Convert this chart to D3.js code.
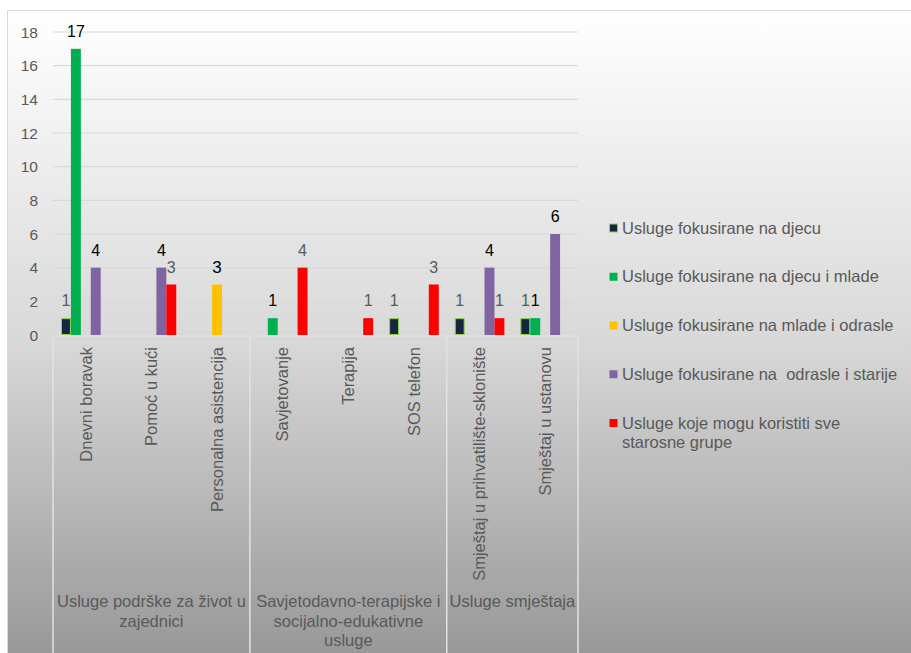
<!DOCTYPE html>
<html>
<head>
<meta charset="utf-8">
<script src="https://cdn.jsdelivr.net/npm/d3@7"></script>
<style>
  body { margin: 0; background: #fff; }
  svg text { font-family: "Liberation Sans", Arial, sans-serif; white-space: pre; }
</style>
</head>
<body>
<div id="chart"></div>
<script>
// --- Data ---
const categories = [
  'Dnevni boravak', 'Pomoć u kući', 'Personalna asistencija',
  'Savjetovanje', 'Terapija', 'SOS telefon',
  'Smještaj u prihvatilište-sklonište', 'Smještaj u ustanovu'
];
const groupNames = [
  ['Usluge podrške za život u', 'zajednici'],
  ['Savjetodavno-terapijske i', 'socijalno-edukativne', 'usluge'],
  ['Usluge smještaja']
];
const groupSizes = [3, 3, 2];
const seriesNames = [
  'Usluge fokusirane na djecu',
  'Usluge fokusirane na djecu i mlade',
  'Usluge fokusirane na mlade i odrasle',
  'Usluge fokusirane na  odrasle i starije',
  'Usluge koje mogu koristiti sve starosne grupe'
];
const valuesDjeca = [1, 0, 0, 0, 0, 1, 1, 1];
const valuesDjecaMlade = [17, 0, 0, 1, 0, 0, 0, 1];
const valuesMladeOdrasle = [0, 0, 3, 0, 0, 0, 0, 0];
const valuesOdrasleStarije = [4, 4, 0, 0, 0, 0, 4, 6];
const valuesSve = [0, 3, 0, 4, 1, 3, 1, 0];
const yTicks = [0, 2, 4, 6, 8, 10, 12, 14, 16, 18];

const seriesValues = [valuesDjeca, valuesDjecaMlade, valuesMladeOdrasle, valuesOdrasleStarije, valuesSve];
const seriesColors = ['#172640', '#00B050', '#FFC000', '#8064A2', '#FF0000'];
const labelColors = ['#595959', '#000000', '#000000', '#000000', '#595959'];

// --- Layout ---
const W = 911, H = 653;
const plot = { left: 53, right: 578, top: 32, bottom: 335 };
const textGray = '#595959';

const svg = d3.select('#chart').append('svg')
  .attr('width', W).attr('height', H);

const defs = svg.append('defs');
const grad = defs.append('linearGradient').attr('id', 'bg')
  .attr('x1', 0).attr('y1', 0).attr('x2', 0).attr('y2', 1);
grad.append('stop').attr('offset', '0%').attr('stop-color', '#FFFFFF');
grad.append('stop').attr('offset', '50%').attr('stop-color', '#D9D9D9');
grad.append('stop').attr('offset', '100%').attr('stop-color', '#979797');

svg.append('rect')
  .attr('x', 7.5).attr('y', 10.5).attr('width', 910).attr('height', 650)
  .attr('fill', 'url(#bg)').attr('stroke', '#D9D9D9');

// Scales
const x0 = d3.scaleBand().domain(categories).range([plot.left, plot.right]);
const x1 = d3.scaleBand().domain(d3.range(seriesValues.length))
  .range([8, x0.bandwidth() - 8]);
const y = d3.scaleLinear().domain([0, 18]).range([plot.bottom, plot.top]);

// Gridlines
svg.append('g').selectAll('line').data(yTicks.filter(t => t > 0)).join('line')
  .attr('x1', plot.left).attr('x2', plot.right)
  .attr('y1', d => y(d)).attr('y2', d => y(d))
  .attr('stroke', '#D9D9D9').attr('stroke-width', 1.2);

// Y tick labels
svg.append('g').selectAll('text').data(yTicks).join('text')
  .attr('x', 38).attr('y', d => y(d) + 5.5)
  .attr('text-anchor', 'end')
  .attr('fill', textGray).style('font-size', '15.5px')
  .text(d => d);

// Category axis lines
svg.append('line')
  .attr('x1', plot.left).attr('x2', plot.right)
  .attr('y1', plot.bottom + 1).attr('y2', plot.bottom + 1)
  .attr('stroke', '#E4E4E4').attr('stroke-width', 1.2);

let acc = 0;
const sepIdx = [0];
groupSizes.forEach(n => { acc += n; sepIdx.push(acc); });
const sepX = i => i < categories.length ? x0(categories[i]) : plot.right;
svg.append('g').selectAll('line').data(sepIdx).join('line')
  .attr('x1', d => sepX(d)).attr('x2', d => sepX(d))
  .attr('y1', plot.bottom + 1).attr('y2', H)
  .attr('stroke', '#E2E2E2').attr('stroke-width', 1.5);

// Bars
seriesValues.forEach((vals, si) => {
  const g = svg.append('g');
  const pts = vals.map((v, ci) => ({ v, c: categories[ci] })).filter(d => d.v > 0);
  g.selectAll('rect').data(pts).join('rect')
    .attr('x', d => x0(d.c) + x1(si) + (si === 0 ? 0.5 : 0))
    .attr('y', d => y(d.v) + (si === 0 ? 0.5 : 0))
    .attr('width', x1.bandwidth() - (si === 0 ? 1 : 0))
    .attr('height', d => y(0) - y(d.v) - (si === 0 ? 1 : 0))
    .attr('fill', seriesColors[si])
    .attr('stroke', si === 0 ? '#92D050' : 'none')
    .attr('stroke-width', 1);
  g.selectAll('text').data(pts).join('text')
    .attr('x', d => x0(d.c) + x1(si) + x1.bandwidth() / 2)
    .attr('y', d => y(d.v) - 12)
    .attr('text-anchor', 'middle')
    .attr('fill', labelColors[si])
    .style('font-size', si === 2 ? '17px' : '16px')
    .text(d => d.v);
});

// Category labels (rotated)
svg.append('g').selectAll('text').data(categories).join('text')
  .attr('transform', d => `translate(${x0(d) + x0.bandwidth() / 2},347) rotate(-90)`)
  .attr('text-anchor', 'end').attr('dy', '0.35em')
  .attr('fill', textGray).style('font-size', '16.5px')
  .text(d => d);

// Group labels
groupNames.forEach((lines, gi) => {
  const cx = (sepX(sepIdx[gi]) + sepX(sepIdx[gi + 1])) / 2;
  svg.append('text')
    .attr('x', cx).attr('y', 607)
    .attr('text-anchor', 'middle')
    .attr('fill', textGray).style('font-size', '16.5px')
    .selectAll('tspan').data(lines).join('tspan')
    .attr('x', cx).attr('dy', (d, i) => i === 0 ? 0 : 19.5)
    .text(d => d);
});

// Legend
const legendLines = [
  [seriesNames[0]], [seriesNames[1]], [seriesNames[2]], [seriesNames[3]],
  ['Usluge koje mogu koristiti sve', 'starosne grupe']
];
legendLines.forEach((lines, i) => {
  const cy = 228 + i * 48.75;
  const g = svg.append('g');
  g.append('rect')
    .attr('x', 609.5).attr('y', cy - 4).attr('width', 8).attr('height', 8)
    .attr('fill', seriesColors[i])
    .attr('stroke', i === 0 ? '#92D050' : 'none');
  g.append('text')
    .attr('x', 622).attr('y', cy + 5.5)
    .attr('fill', textGray).style('font-size', '16.5px')
    .selectAll('tspan').data(lines).join('tspan')
    .attr('x', 622).attr('dy', (d, j) => j === 0 ? 0 : 19.7)
    .text(d => d);
});
</script>
</body>
</html>
